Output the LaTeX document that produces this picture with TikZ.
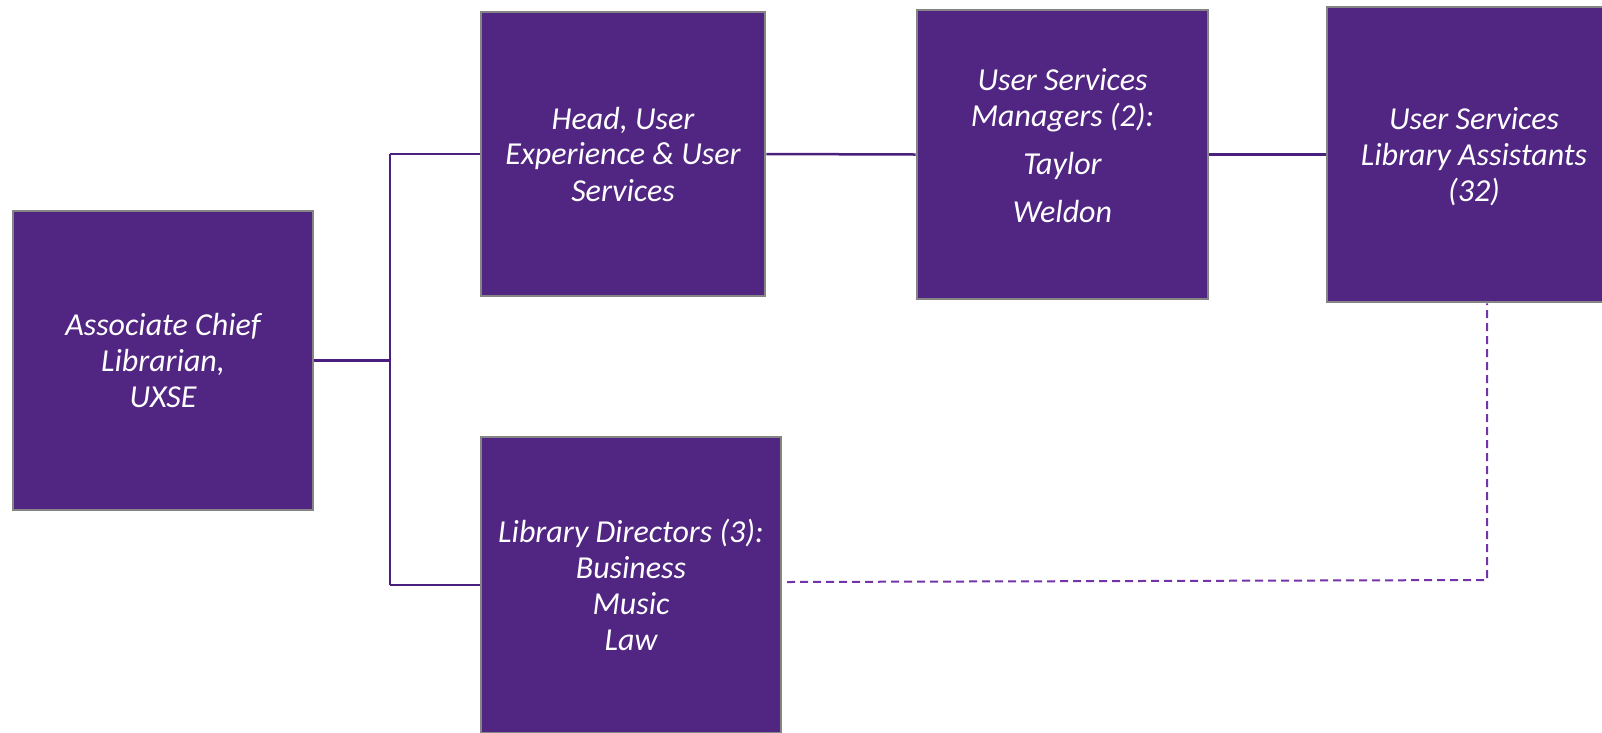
\documentclass[tikz,border=0pt]{standalone}
\usepackage{fontspec}
\setmainfont{Carlito}
\definecolor{boxfill}{HTML}{512682}
\definecolor{boxline}{HTML}{858585}
\definecolor{conn}{HTML}{4A1F7E}
\definecolor{dashc}{HTML}{7434A8}
\begin{document}
\begin{tikzpicture}[x=1pt,y=-1pt,
  boxfont/.style={font=\fontsize{32}{36}\selectfont\itshape,text=white,align=center,inner sep=0pt},
  orgbox/.style={fill=boxfill,draw=boxline,line width=2.8pt,boxfont},
  connline/.style={draw=conn,line width=2.5pt},
  dashline/.style={draw=dashc,line width=2pt,dash pattern=on 8pt off 5pt}]
\useasboundingbox (0,0) rectangle (1602,732);
\node[orgbox,minimum width=300,minimum height=299] (acl) at (163,360.5) {Associate Chief\\Librarian,\\UXSE};
\node[orgbox,minimum width=284,minimum height=284] (head) at (623,154) {Head, User\\Experience \& User\\Services};
\node[orgbox,minimum width=291,minimum height=289] (usm) at (1062.5,154.5) {};
\node[boxfont] (usmt) at (1062.5,146) {User Services\\Managers (2):\\[12pt]Taylor\\[12pt]Weldon};
\node[orgbox,minimum width=294,minimum height=295] (usla) at (1474,154.5) {};
\node[boxfont] (uslat) at (1474,157) {User Services\\Library Assistants\\(32)};
\node[orgbox,minimum width=300,minimum height=296] (libd) at (631,585) {Library Directors (3):\\Business\\Music\\Law};
\coordinate (trunk) at (390,360.5);
\coordinate (ttop) at (390,154);
\coordinate (tbot) at (390,585);
\coordinate (d1) at (787,582);
\coordinate (d2) at (1487,580);
\draw[connline] (acl.east) -- (trunk);
\draw[connline] (ttop) -- (tbot);
\draw[connline] (ttop) -- (head.west);
\draw[connline] (tbot) -- (libd.west);
\draw[connline] (head.east) -- (usm.west);
\draw[connline] (usm.east) -- (usla.west);
\draw[dashline] (d1) -- (d2) -- (d2 |- usla.south);
\end{tikzpicture}
\end{document}
